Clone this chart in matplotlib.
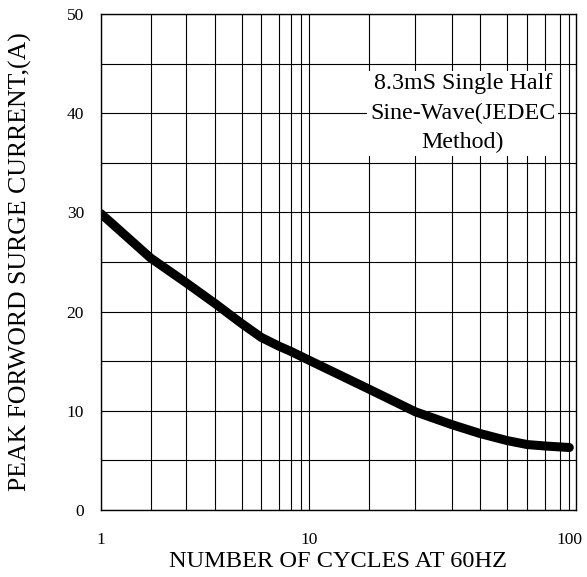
import numpy as np
from matplotlib import pyplot as plt

# curve
cycles = [1, 2, 3, 4, 5, 6, 7, 8, 10, 20, 30, 40, 50, 60, 70, 80, 100]
current = [29.9, 25.4, 22.9, 20.8, 18.8, 17.4, 16.5, 16.0, 15.1, 12.2, 9.9, 8.6, 7.7, 7.0, 6.6, 6.45, 6.3]

y_ticks = [0, 10, 20, 30, 40, 50]
x_ticks = [1, 10, 100]
x_minor = [2, 3, 4, 5, 6, 7, 8, 9, 20, 30, 40, 50, 60, 70, 80, 90]

# the printed grid is not a true log grid, so map values with the spacing seen on the sheet
grid_vals = np.array([1, 2, 3, 4, 5, 6, 7, 8, 9, 10, 20, 30, 40, 50, 60, 70, 80, 90, 100])
grid_pos = np.array([0, 50, 85.6, 114.6, 141, 160.6, 178.6, 190, 200.3, 208.3,
                     268, 314.7, 351.4, 379.7, 406.4, 426.4, 444.7, 459, 468.6])
log_vals = np.log10(grid_vals)


def forward(x):
    lx = np.log10(np.clip(x, 1e-6, None))
    out = np.interp(lx, log_vals, grid_pos)
    out = np.where(lx > 2, grid_pos[-1] + (lx - 2) * 260.3, out)
    out = np.where(lx < 0, lx * 208.3, out)
    return out


def inverse(p):
    out = np.interp(p, grid_pos, log_vals)
    out = np.where(p > grid_pos[-1], 2 + (p - grid_pos[-1]) / 260.3, out)
    out = np.where(p < 0, p / 208.3, out)
    return 10 ** out


plt.rcParams['font.family'] = ['Liberation Serif', 'DejaVu Serif']

fig = plt.figure(figsize=(5.87, 5.77), dpi=100)
ax = fig.add_axes([0.1715, 0.1161, 0.8098, 0.8596])
ax.set_xscale('function', functions=(forward, inverse))
ax.set_xlim(1, float(inverse(np.array(475.3))))
ax.set_ylim(0, 50)

ax.set_xticks(x_ticks)
ax.set_xticklabels([str(v) for v in x_ticks])
ax.set_xticks(x_minor, minor=True)
ax.set_xticklabels([], minor=True)
ax.set_yticks(y_ticks)
ax.set_yticks([5, 15, 25, 35, 45], minor=True)
ax.tick_params(which='both', length=0, labelsize=12.5)
ax.tick_params(axis='x', pad=16)
ax.tick_params(axis='y', pad=12)

ax.grid(True, which='both', color='black', linewidth=0.8)
ax.set_axisbelow(True)
for s in ax.spines.values():
    s.set_linewidth(1.0)

ax.plot(cycles, current, color='black', linewidth=6.5, solid_capstyle='round',
        solid_joinstyle='round', zorder=3)

ax.text(0.762, 0.80, "8.3mS Single Half\nSine-Wave(JEDEC\nMethod)", transform=ax.transAxes,
        ha='center', va='center', fontsize=17.3, linespacing=1.5, zorder=4,
        bbox=dict(facecolor='white', edgecolor='none', pad=2))

ax.set_xlabel('NUMBER OF CYCLES AT 60HZ', fontsize=17.6, labelpad=2)
ax.set_ylabel('PEAK FORWORD SURGE CURRENT,(A)', fontsize=18.5, labelpad=25)

fig.savefig('out.png', dpi=100)
